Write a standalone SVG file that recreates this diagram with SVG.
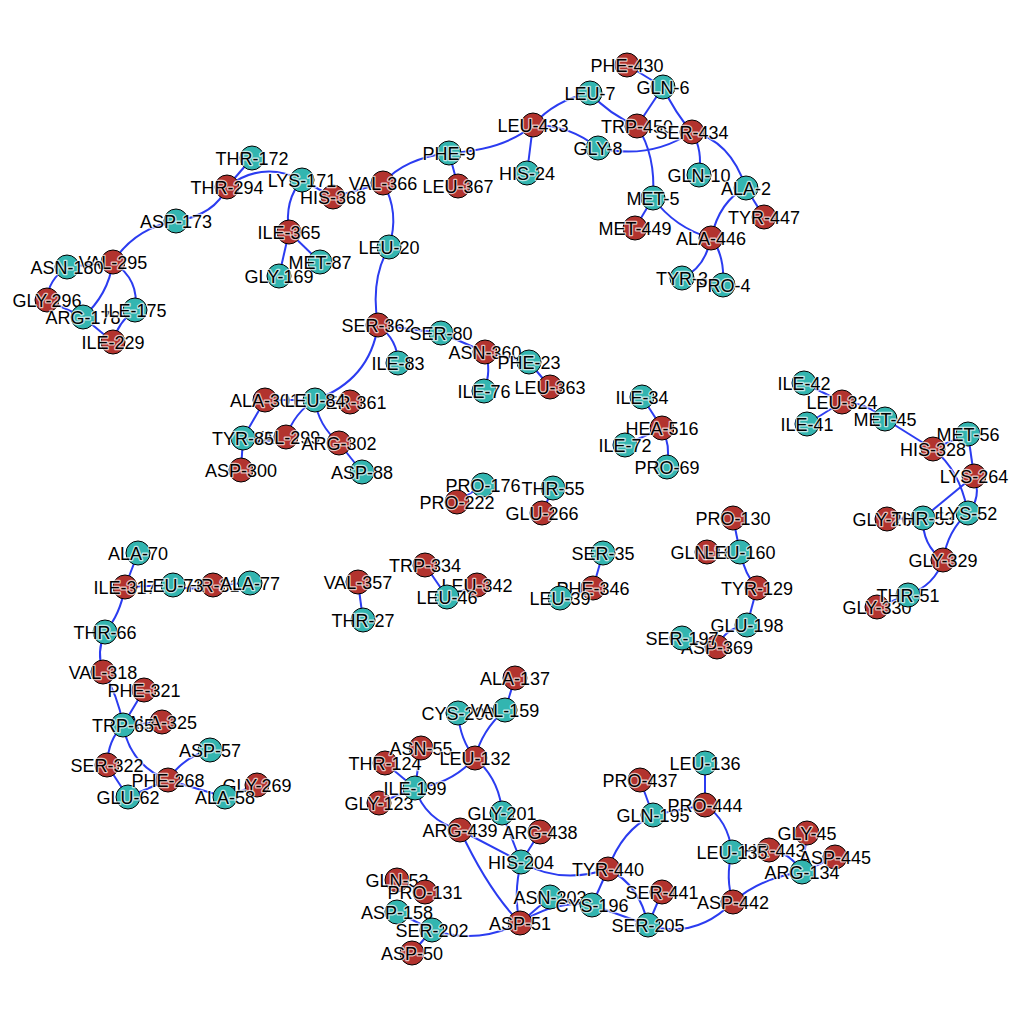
<svg xmlns="http://www.w3.org/2000/svg" width="1024" height="1024" viewBox="0 0 1024 1024">
<style>
.e{fill:none;stroke:#2b3cf0;stroke-width:2}
.r{fill:#b2332e;stroke:#000;stroke-width:1}
.t{fill:#33b5b0;stroke:#000;stroke-width:1}
text{font-family:"Liberation Sans",Arial,sans-serif;font-size:18px;text-anchor:middle;fill:#000;stroke:#fff;stroke-opacity:0.7;stroke-width:2.5;paint-order:stroke;stroke-linejoin:round}
</style>
<rect width="1024" height="1024" fill="#fff"/>
<g id="edges">
<path class="e" d="M252 158 L227 187"/>
<path class="e" d="M227 187 Q262 160 302 180"/>
<path class="e" d="M227 187 Q215 215 176 221"/>
<path class="e" d="M176 221 Q135 228 113 262"/>
<path class="e" d="M113 262 L67 267"/>
<path class="e" d="M67 267 Q48 280 47 300"/>
<path class="e" d="M47 300 L83 317"/>
<path class="e" d="M113 262 Q108 295 83 317"/>
<path class="e" d="M113 262 Q140 280 135 310"/>
<path class="e" d="M135 310 Q118 322 113 342"/>
<path class="e" d="M83 317 L113 342"/>
<path class="e" d="M302 180 Q284 200 289 232"/>
<path class="e" d="M289 232 L279 276"/>
<path class="e" d="M289 232 L320 262"/>
<path class="e" d="M302 180 L333 197"/>
<path class="e" d="M333 197 L383 183"/>
<path class="e" d="M383 183 Q405 158 449 153"/>
<path class="e" d="M449 153 Q505 150 533 125"/>
<path class="e" d="M449 153 L458 186"/>
<path class="e" d="M383 183 Q400 212 389 247"/>
<path class="e" d="M389 247 Q370 280 378 325"/>
<path class="e" d="M378 325 Q398 340 398 363"/>
<path class="e" d="M378 325 L441 333"/>
<path class="e" d="M441 333 L485 352"/>
<path class="e" d="M485 352 L529 362"/>
<path class="e" d="M485 352 Q492 370 484 391"/>
<path class="e" d="M529 362 L550 387"/>
<path class="e" d="M378 325 Q370 380 315 400"/>
<path class="e" d="M315 400 L265 400"/>
<path class="e" d="M315 400 L350 402"/>
<path class="e" d="M315 400 Q295 412 286 437"/>
<path class="e" d="M315 400 Q318 425 339 443"/>
<path class="e" d="M339 443 L362 472"/>
<path class="e" d="M265 400 L243 438"/>
<path class="e" d="M243 438 Q265 445 286 437"/>
<path class="e" d="M243 438 L241 470"/>
<path class="e" d="M533 125 Q555 100 590 93"/>
<path class="e" d="M590 93 Q610 115 637 126"/>
<path class="e" d="M533 125 Q570 125 598 148"/>
<path class="e" d="M533 125 L527 173"/>
<path class="e" d="M598 148 Q650 160 692 132"/>
<path class="e" d="M663 87 L637 126"/>
<path class="e" d="M663 87 Q675 113 692 132"/>
<path class="e" d="M627 65 L663 87"/>
<path class="e" d="M692 132 Q703 150 699 175"/>
<path class="e" d="M692 132 Q730 140 746 188"/>
<path class="e" d="M637 126 Q656 155 653 198"/>
<path class="e" d="M653 198 L635 228"/>
<path class="e" d="M653 198 Q675 228 711 238"/>
<path class="e" d="M746 188 Q720 200 711 238"/>
<path class="e" d="M746 188 L764 217"/>
<path class="e" d="M711 238 Q705 268 682 278"/>
<path class="e" d="M711 238 Q725 255 723 285"/>
<path class="e" d="M642 397 L662 428"/>
<path class="e" d="M662 428 L625 445"/>
<path class="e" d="M662 428 Q671 445 667 467"/>
<path class="e" d="M483 485 L457 502"/>
<path class="e" d="M553 488 L542 513"/>
<path class="e" d="M358 582 L363 620"/>
<path class="e" d="M425 565 L447 597"/>
<path class="e" d="M447 597 L477 585"/>
<path class="e" d="M603 553 L593 588"/>
<path class="e" d="M593 588 L560 598"/>
<path class="e" d="M733 518 L740 552"/>
<path class="e" d="M707 552 L740 552"/>
<path class="e" d="M740 552 Q745 575 757 588"/>
<path class="e" d="M757 588 L747 625"/>
<path class="e" d="M747 625 Q725 628 717 647"/>
<path class="e" d="M717 647 L682 638"/>
<path class="e" d="M804 383 L842 402"/>
<path class="e" d="M807 424 L842 402"/>
<path class="e" d="M842 402 Q865 402 885 419"/>
<path class="e" d="M885 419 L933 449"/>
<path class="e" d="M933 449 L968 434"/>
<path class="e" d="M968 434 L974 476"/>
<path class="e" d="M933 449 Q960 470 968 513"/>
<path class="e" d="M974 476 Q982 497 968 513"/>
<path class="e" d="M974 476 L923 518"/>
<path class="e" d="M887 519 L923 518"/>
<path class="e" d="M923 518 Q922 545 943 560"/>
<path class="e" d="M968 513 Q948 530 943 560"/>
<path class="e" d="M943 560 Q935 585 908 595"/>
<path class="e" d="M908 595 L877 607"/>
<path class="e" d="M138 553 L125 587"/>
<path class="e" d="M125 587 L173 585"/>
<path class="e" d="M173 585 Q193 592 213 585"/>
<path class="e" d="M213 585 L250 583"/>
<path class="e" d="M125 587 Q120 615 105 632"/>
<path class="e" d="M105 632 Q96 652 103 672"/>
<path class="e" d="M103 672 Q118 695 123 725"/>
<path class="e" d="M144 690 L123 725"/>
<path class="e" d="M123 725 L162 722"/>
<path class="e" d="M123 725 Q108 740 107 765"/>
<path class="e" d="M123 725 Q130 765 168 780"/>
<path class="e" d="M107 765 L128 797"/>
<path class="e" d="M128 797 L168 780"/>
<path class="e" d="M168 780 Q183 757 210 750"/>
<path class="e" d="M168 780 L225 797"/>
<path class="e" d="M225 797 L257 785"/>
<path class="e" d="M515 678 L505 710"/>
<path class="e" d="M505 710 Q482 730 475 758"/>
<path class="e" d="M458 713 Q460 740 475 758"/>
<path class="e" d="M475 758 Q450 785 415 788"/>
<path class="e" d="M475 758 Q500 780 502 813"/>
<path class="e" d="M421 748 L415 788"/>
<path class="e" d="M385 763 L415 788"/>
<path class="e" d="M379 803 L415 788"/>
<path class="e" d="M415 788 Q425 820 460 830"/>
<path class="e" d="M460 830 L521 862"/>
<path class="e" d="M460 830 Q488 890 520 923"/>
<path class="e" d="M540 832 L521 862"/>
<path class="e" d="M502 813 L521 862"/>
<path class="e" d="M521 862 Q560 885 608 869"/>
<path class="e" d="M521 862 Q513 895 520 923"/>
<path class="e" d="M608 869 Q622 830 653 815"/>
<path class="e" d="M608 869 L592 905"/>
<path class="e" d="M608 869 Q640 885 648 925"/>
<path class="e" d="M520 923 L550 897"/>
<path class="e" d="M520 923 Q555 900 592 905"/>
<path class="e" d="M592 905 L550 897"/>
<path class="e" d="M520 923 Q478 945 432 930"/>
<path class="e" d="M432 930 L412 953"/>
<path class="e" d="M432 930 L397 912"/>
<path class="e" d="M425 892 L397 880"/>
<path class="e" d="M592 905 L648 925"/>
<path class="e" d="M648 925 L662 892"/>
<path class="e" d="M648 925 Q695 940 733 902"/>
<path class="e" d="M653 815 L640 780"/>
<path class="e" d="M653 815 L705 805"/>
<path class="e" d="M705 805 L705 763"/>
<path class="e" d="M705 805 Q728 820 732 852"/>
<path class="e" d="M732 852 Q725 878 733 902"/>
<path class="e" d="M732 852 L769 850"/>
<path class="e" d="M769 850 Q790 852 802 872"/>
<path class="e" d="M733 902 Q760 878 802 872"/>
<path class="e" d="M802 872 L835 857"/>
<path class="e" d="M807 833 L802 872"/>
</g>
<g id="n-THR-172"><circle class="t" cx="252" cy="158" r="12"/><text x="252" y="164.5">THR-172</text></g>
<g id="n-THR-294"><circle class="r" cx="227" cy="187" r="12"/><text x="227" y="193.5">THR-294</text></g>
<g id="n-HIS-368"><circle class="r" cx="333" cy="197" r="12"/><text x="333" y="203.5">HIS-368</text></g>
<g id="n-LYS-171"><circle class="t" cx="302" cy="180" r="12"/><text x="302" y="186.5">LYS-171</text></g>
<g id="n-VAL-366"><circle class="r" cx="383" cy="183" r="12"/><text x="383" y="189.5">VAL-366</text></g>
<g id="n-PHE-9"><circle class="t" cx="449" cy="153" r="12"/><text x="449" y="159.5">PHE-9</text></g>
<g id="n-LEU-367"><circle class="r" cx="458" cy="186" r="12"/><text x="458" y="192.5">LEU-367</text></g>
<g id="n-LEU-20"><circle class="t" cx="389" cy="247" r="12"/><text x="389" y="253.5">LEU-20</text></g>
<g id="n-ILE-365"><circle class="r" cx="289" cy="232" r="12"/><text x="289" y="238.5">ILE-365</text></g>
<g id="n-GLY-169"><circle class="t" cx="279" cy="276" r="12"/><text x="279" y="282.5">GLY-169</text></g>
<g id="n-MET-87"><circle class="t" cx="320" cy="262" r="12"/><text x="320" y="268.5">MET-87</text></g>
<g id="n-ASP-173"><circle class="t" cx="176" cy="221" r="12"/><text x="176" y="227.5">ASP-173</text></g>
<g id="n-VAL-295"><circle class="r" cx="113" cy="262" r="12"/><text x="113" y="268.5">VAL-295</text></g>
<g id="n-ASN-180"><circle class="t" cx="67" cy="267" r="12"/><text x="67" y="273.5">ASN-180</text></g>
<g id="n-GLY-296"><circle class="r" cx="47" cy="300" r="12"/><text x="47" y="306.5">GLY-296</text></g>
<g id="n-ARG-178"><circle class="t" cx="83" cy="317" r="12"/><text x="83" y="323.5">ARG-178</text></g>
<g id="n-ILE-175"><circle class="t" cx="135" cy="310" r="12"/><text x="135" y="316.5">ILE-175</text></g>
<g id="n-ILE-229"><circle class="r" cx="113" cy="342" r="12"/><text x="113" y="348.5">ILE-229</text></g>
<g id="n-LEU-433"><circle class="r" cx="533" cy="125" r="12"/><text x="533" y="131.5">LEU-433</text></g>
<g id="n-HIS-24"><circle class="t" cx="527" cy="173" r="12"/><text x="527" y="179.5">HIS-24</text></g>
<g id="n-PHE-430"><circle class="r" cx="627" cy="65" r="12"/><text x="627" y="71.5">PHE-430</text></g>
<g id="n-LEU-7"><circle class="t" cx="590" cy="93" r="12"/><text x="590" y="99.5">LEU-7</text></g>
<g id="n-GLN-6"><circle class="t" cx="663" cy="87" r="12"/><text x="663" y="93.5">GLN-6</text></g>
<g id="n-TRP-450"><circle class="r" cx="637" cy="126" r="12"/><text x="637" y="132.5">TRP-450</text></g>
<g id="n-SER-434"><circle class="r" cx="692" cy="132" r="12"/><text x="692" y="138.5">SER-434</text></g>
<g id="n-GLY-8"><circle class="t" cx="598" cy="148" r="12"/><text x="598" y="154.5">GLY-8</text></g>
<g id="n-GLN-10"><circle class="t" cx="699" cy="175" r="12"/><text x="699" y="181.5">GLN-10</text></g>
<g id="n-MET-5"><circle class="t" cx="653" cy="198" r="12"/><text x="653" y="204.5">MET-5</text></g>
<g id="n-ALA-2"><circle class="t" cx="746" cy="188" r="12"/><text x="746" y="194.5">ALA-2</text></g>
<g id="n-TYR-447"><circle class="r" cx="764" cy="217" r="12"/><text x="764" y="223.5">TYR-447</text></g>
<g id="n-MET-449"><circle class="r" cx="635" cy="228" r="12"/><text x="635" y="234.5">MET-449</text></g>
<g id="n-ALA-446"><circle class="r" cx="711" cy="238" r="12"/><text x="711" y="244.5">ALA-446</text></g>
<g id="n-TYR-3"><circle class="t" cx="682" cy="278" r="12"/><text x="682" y="284.5">TYR-3</text></g>
<g id="n-PRO-4"><circle class="t" cx="723" cy="285" r="12"/><text x="723" y="291.5">PRO-4</text></g>
<g id="n-SER-362"><circle class="r" cx="378" cy="325" r="12"/><text x="378" y="331.5">SER-362</text></g>
<g id="n-SER-80"><circle class="t" cx="441" cy="333" r="12"/><text x="441" y="339.5">SER-80</text></g>
<g id="n-ILE-83"><circle class="t" cx="398" cy="363" r="12"/><text x="398" y="369.5">ILE-83</text></g>
<g id="n-ASN-360"><circle class="r" cx="485" cy="352" r="12"/><text x="485" y="358.5">ASN-360</text></g>
<g id="n-PHE-23"><circle class="t" cx="529" cy="362" r="12"/><text x="529" y="368.5">PHE-23</text></g>
<g id="n-ILE-76"><circle class="t" cx="484" cy="391" r="12"/><text x="484" y="397.5">ILE-76</text></g>
<g id="n-LEU-363"><circle class="r" cx="550" cy="387" r="12"/><text x="550" y="393.5">LEU-363</text></g>
<g id="n-ALA-301"><circle class="r" cx="265" cy="400" r="12"/><text x="265" y="406.5">ALA-301</text></g>
<g id="n-SER-361"><circle class="r" cx="350" cy="402" r="12"/><text x="350" y="408.5">SER-361</text></g>
<g id="n-LEU-84"><circle class="t" cx="315" cy="400" r="12"/><text x="315" y="406.5">LEU-84</text></g>
<g id="n-VAL-299"><circle class="r" cx="286" cy="437" r="12"/><text x="286" y="443.5">VAL-299</text></g>
<g id="n-TYR-85"><circle class="t" cx="243" cy="438" r="12"/><text x="243" y="444.5">TYR-85</text></g>
<g id="n-ARG-302"><circle class="r" cx="339" cy="443" r="12"/><text x="339" y="449.5">ARG-302</text></g>
<g id="n-ASP-300"><circle class="r" cx="241" cy="470" r="12"/><text x="241" y="476.5">ASP-300</text></g>
<g id="n-ASP-88"><circle class="t" cx="362" cy="472" r="12"/><text x="362" y="478.5">ASP-88</text></g>
<g id="n-PRO-176"><circle class="t" cx="483" cy="485" r="12"/><text x="483" y="491.5">PRO-176</text></g>
<g id="n-PRO-222"><circle class="r" cx="457" cy="502" r="12"/><text x="457" y="508.5">PRO-222</text></g>
<g id="n-THR-55"><circle class="t" cx="553" cy="488" r="12"/><text x="553" y="494.5">THR-55</text></g>
<g id="n-GLU-266"><circle class="r" cx="542" cy="513" r="12"/><text x="542" y="519.5">GLU-266</text></g>
<g id="n-ILE-34"><circle class="t" cx="642" cy="397" r="12"/><text x="642" y="403.5">ILE-34</text></g>
<g id="n-HEA-516"><circle class="r" cx="662" cy="428" r="12"/><text x="662" y="434.5">HEA-516</text></g>
<g id="n-ILE-72"><circle class="t" cx="625" cy="445" r="12"/><text x="625" y="451.5">ILE-72</text></g>
<g id="n-PRO-69"><circle class="t" cx="667" cy="467" r="12"/><text x="667" y="473.5">PRO-69</text></g>
<g id="n-ILE-42"><circle class="t" cx="804" cy="383" r="12"/><text x="804" y="389.5">ILE-42</text></g>
<g id="n-LEU-324"><circle class="r" cx="842" cy="402" r="12"/><text x="842" y="408.5">LEU-324</text></g>
<g id="n-ILE-41"><circle class="t" cx="807" cy="424" r="12"/><text x="807" y="430.5">ILE-41</text></g>
<g id="n-MET-45"><circle class="t" cx="885" cy="419" r="12"/><text x="885" y="425.5">MET-45</text></g>
<g id="n-MET-56"><circle class="t" cx="968" cy="434" r="12"/><text x="968" y="440.5">MET-56</text></g>
<g id="n-HIS-328"><circle class="r" cx="933" cy="449" r="12"/><text x="933" y="455.5">HIS-328</text></g>
<g id="n-LYS-264"><circle class="r" cx="974" cy="476" r="12"/><text x="974" y="482.5">LYS-264</text></g>
<g id="n-GLY-265"><circle class="r" cx="887" cy="519" r="12"/><text x="887" y="525.5">GLY-265</text></g>
<g id="n-THR-53"><circle class="t" cx="923" cy="518" r="12"/><text x="923" y="524.5">THR-53</text></g>
<g id="n-LYS-52"><circle class="t" cx="968" cy="513" r="12"/><text x="968" y="519.5">LYS-52</text></g>
<g id="n-GLY-329"><circle class="r" cx="943" cy="560" r="12"/><text x="943" y="566.5">GLY-329</text></g>
<g id="n-GLY-330"><circle class="r" cx="877" cy="607" r="12"/><text x="877" y="613.5">GLY-330</text></g>
<g id="n-THR-51"><circle class="t" cx="908" cy="595" r="12"/><text x="908" y="601.5">THR-51</text></g>
<g id="n-PRO-130"><circle class="r" cx="733" cy="518" r="12"/><text x="733" y="524.5">PRO-130</text></g>
<g id="n-GLN-161"><circle class="r" cx="707" cy="552" r="12"/><text x="707" y="558.5">GLN-161</text></g>
<g id="n-LEU-160"><circle class="t" cx="740" cy="552" r="12"/><text x="740" y="558.5">LEU-160</text></g>
<g id="n-TYR-129"><circle class="r" cx="757" cy="588" r="12"/><text x="757" y="594.5">TYR-129</text></g>
<g id="n-GLU-198"><circle class="t" cx="747" cy="625" r="12"/><text x="747" y="631.5">GLU-198</text></g>
<g id="n-ASP-369"><circle class="r" cx="717" cy="647" r="12"/><text x="717" y="653.5">ASP-369</text></g>
<g id="n-SER-197"><circle class="t" cx="682" cy="638" r="12"/><text x="682" y="644.5">SER-197</text></g>
<g id="n-VAL-357"><circle class="r" cx="358" cy="582" r="12"/><text x="358" y="588.5">VAL-357</text></g>
<g id="n-THR-27"><circle class="t" cx="363" cy="620" r="12"/><text x="363" y="626.5">THR-27</text></g>
<g id="n-TRP-334"><circle class="r" cx="425" cy="565" r="12"/><text x="425" y="571.5">TRP-334</text></g>
<g id="n-LEU-342"><circle class="r" cx="477" cy="585" r="12"/><text x="477" y="591.5">LEU-342</text></g>
<g id="n-LEU-46"><circle class="t" cx="447" cy="597" r="12"/><text x="447" y="603.5">LEU-46</text></g>
<g id="n-SER-35"><circle class="t" cx="603" cy="553" r="12"/><text x="603" y="559.5">SER-35</text></g>
<g id="n-PHE-346"><circle class="r" cx="593" cy="588" r="12"/><text x="593" y="594.5">PHE-346</text></g>
<g id="n-LEU-39"><circle class="t" cx="560" cy="598" r="12"/><text x="560" y="604.5">LEU-39</text></g>
<g id="n-ALA-70"><circle class="t" cx="138" cy="553" r="12"/><text x="138" y="559.5">ALA-70</text></g>
<g id="n-ILE-317"><circle class="r" cx="125" cy="587" r="12"/><text x="125" y="593.5">ILE-317</text></g>
<g id="n-THR-319"><circle class="r" cx="213" cy="585" r="12"/><text x="213" y="591.5">THR-319</text></g>
<g id="n-LEU-73"><circle class="t" cx="173" cy="585" r="12"/><text x="173" y="591.5">LEU-73</text></g>
<g id="n-ALA-77"><circle class="t" cx="250" cy="583" r="12"/><text x="250" y="589.5">ALA-77</text></g>
<g id="n-THR-66"><circle class="t" cx="105" cy="632" r="12"/><text x="105" y="638.5">THR-66</text></g>
<g id="n-VAL-318"><circle class="r" cx="103" cy="672" r="12"/><text x="103" y="678.5">VAL-318</text></g>
<g id="n-PHE-321"><circle class="r" cx="144" cy="690" r="12"/><text x="144" y="696.5">PHE-321</text></g>
<g id="n-ALA-325"><circle class="r" cx="162" cy="722" r="12"/><text x="162" y="728.5">ALA-325</text></g>
<g id="n-TRP-65"><circle class="t" cx="123" cy="725" r="12"/><text x="123" y="731.5">TRP-65</text></g>
<g id="n-ASP-57"><circle class="t" cx="210" cy="750" r="12"/><text x="210" y="756.5">ASP-57</text></g>
<g id="n-SER-322"><circle class="r" cx="107" cy="765" r="12"/><text x="107" y="771.5">SER-322</text></g>
<g id="n-GLU-62"><circle class="t" cx="128" cy="797" r="12"/><text x="128" y="803.5">GLU-62</text></g>
<g id="n-PHE-268"><circle class="r" cx="168" cy="780" r="12"/><text x="168" y="786.5">PHE-268</text></g>
<g id="n-GLY-269"><circle class="r" cx="257" cy="785" r="12"/><text x="257" y="791.5">GLY-269</text></g>
<g id="n-ALA-58"><circle class="t" cx="225" cy="797" r="12"/><text x="225" y="803.5">ALA-58</text></g>
<g id="n-ALA-137"><circle class="r" cx="515" cy="678" r="12"/><text x="515" y="684.5">ALA-137</text></g>
<g id="n-CYS-200"><circle class="t" cx="458" cy="713" r="12"/><text x="458" y="719.5">CYS-200</text></g>
<g id="n-VAL-159"><circle class="t" cx="505" cy="710" r="12"/><text x="505" y="716.5">VAL-159</text></g>
<g id="n-THR-124"><circle class="r" cx="385" cy="763" r="12"/><text x="385" y="769.5">THR-124</text></g>
<g id="n-ASN-55"><circle class="r" cx="421" cy="748" r="12"/><text x="421" y="754.5">ASN-55</text></g>
<g id="n-LEU-132"><circle class="r" cx="475" cy="758" r="12"/><text x="475" y="764.5">LEU-132</text></g>
<g id="n-GLY-123"><circle class="r" cx="379" cy="803" r="12"/><text x="379" y="809.5">GLY-123</text></g>
<g id="n-ILE-199"><circle class="t" cx="415" cy="788" r="12"/><text x="415" y="794.5">ILE-199</text></g>
<g id="n-GLY-201"><circle class="t" cx="502" cy="813" r="12"/><text x="502" y="819.5">GLY-201</text></g>
<g id="n-ARG-439"><circle class="r" cx="460" cy="830" r="12"/><text x="460" y="836.5">ARG-439</text></g>
<g id="n-ARG-438"><circle class="r" cx="540" cy="832" r="12"/><text x="540" y="838.5">ARG-438</text></g>
<g id="n-HIS-204"><circle class="t" cx="521" cy="862" r="12"/><text x="521" y="868.5">HIS-204</text></g>
<g id="n-GLN-52"><circle class="r" cx="397" cy="880" r="12"/><text x="397" y="886.5">GLN-52</text></g>
<g id="n-PRO-131"><circle class="r" cx="425" cy="892" r="12"/><text x="425" y="898.5">PRO-131</text></g>
<g id="n-ASP-158"><circle class="t" cx="397" cy="912" r="12"/><text x="397" y="918.5">ASP-158</text></g>
<g id="n-SER-202"><circle class="t" cx="432" cy="930" r="12"/><text x="432" y="936.5">SER-202</text></g>
<g id="n-ASP-50"><circle class="r" cx="412" cy="953" r="12"/><text x="412" y="959.5">ASP-50</text></g>
<g id="n-ASN-203"><circle class="t" cx="550" cy="897" r="12"/><text x="550" y="903.5">ASN-203</text></g>
<g id="n-CYS-196"><circle class="t" cx="592" cy="905" r="12"/><text x="592" y="911.5">CYS-196</text></g>
<g id="n-ASP-51"><circle class="r" cx="520" cy="923" r="12"/><text x="520" y="929.5">ASP-51</text></g>
<g id="n-TYR-440"><circle class="r" cx="608" cy="869" r="12"/><text x="608" y="875.5">TYR-440</text></g>
<g id="n-LEU-136"><circle class="t" cx="705" cy="763" r="12"/><text x="705" y="769.5">LEU-136</text></g>
<g id="n-PRO-437"><circle class="r" cx="640" cy="780" r="12"/><text x="640" y="786.5">PRO-437</text></g>
<g id="n-GLN-195"><circle class="t" cx="653" cy="815" r="12"/><text x="653" y="821.5">GLN-195</text></g>
<g id="n-PRO-444"><circle class="r" cx="705" cy="805" r="12"/><text x="705" y="811.5">PRO-444</text></g>
<g id="n-GLY-45"><circle class="r" cx="807" cy="833" r="12"/><text x="807" y="839.5">GLY-45</text></g>
<g id="n-THR-443"><circle class="r" cx="769" cy="850" r="12"/><text x="769" y="856.5">THR-443</text></g>
<g id="n-LEU-135"><circle class="t" cx="732" cy="852" r="12"/><text x="732" y="858.5">LEU-135</text></g>
<g id="n-ASP-445"><circle class="r" cx="835" cy="857" r="12"/><text x="835" y="863.5">ASP-445</text></g>
<g id="n-ARG-134"><circle class="t" cx="802" cy="872" r="12"/><text x="802" y="878.5">ARG-134</text></g>
<g id="n-SER-441"><circle class="r" cx="662" cy="892" r="12"/><text x="662" y="898.5">SER-441</text></g>
<g id="n-SER-205"><circle class="t" cx="648" cy="925" r="12"/><text x="648" y="931.5">SER-205</text></g>
<g id="n-ASP-442"><circle class="r" cx="733" cy="902" r="12"/><text x="733" y="908.5">ASP-442</text></g>
</svg>
